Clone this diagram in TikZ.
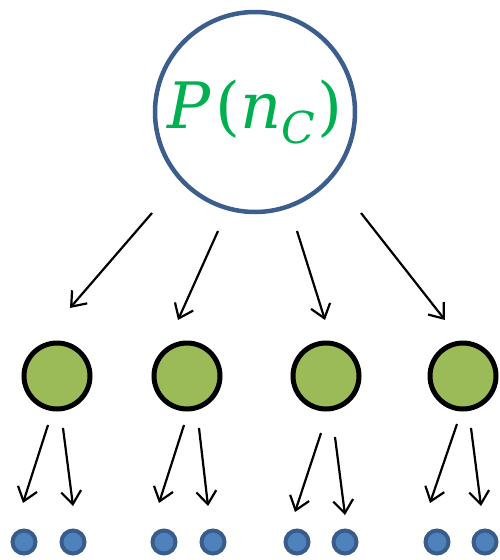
\documentclass[tikz,border=0pt]{standalone}
\usepackage{fontspec}
\newfontfamily\labelfont{DejaVu Serif}
\usetikzlibrary{arrows.meta}
\definecolor{ringblue}{HTML}{3B5E8C}
\definecolor{txtgreen}{HTML}{00B050}
\definecolor{leafgreen}{HTML}{9BBB59}
\definecolor{dotin}{HTML}{4F81BD}
\definecolor{dotout}{HTML}{385D8A}
\begin{document}
\begin{tikzpicture}[x=1pt,y=-1pt,
  bigc/.style={circle,draw=ringblue,line width=4.5pt,minimum size=200pt,inner sep=0pt},
  greenc/.style={circle,draw=black,fill=leafgreen,line width=5pt,minimum size=66pt,inner sep=0pt},
  dotc/.style={circle,draw=dotout,fill=dotin,line width=4pt,minimum size=23pt,inner sep=0pt},
  arr/.style={line width=2.2pt,-{Straight Barb[length=13pt,width=20pt,line width=2.2pt]}}]
\useasboundingbox (0,0) rectangle (499,560);
\node[bigc] (top) at (255,112) {};
\node[text=txtgreen,font=\labelfont\fontsize{64}{70}\selectfont,inner sep=0pt] (lbl) at (255,112)
  {\textit{P}\kern4pt(\textit{n}\raisebox{-0.22em}{\fontsize{44}{46}\selectfont\textit{C}}\kern2pt)};
\foreach \i/\x in {1/57,2/187,3/326,4/463}{
  \node[greenc] (g\i) at (\x,376) {};
}
\foreach \i/\x in {1/24,2/73,3/164,4/213,5/297,6/345,7/437,8/485}{
  \node[dotc] (d\i) at (\x,542) {};
}
% top arrows
\coordinate (s1) at (152,213); \coordinate (e1) at (70,308);
\coordinate (s2) at (218,231); \coordinate (e2) at (178,320);
\coordinate (s3) at (297,231); \coordinate (e3) at (325,320);
\coordinate (s4) at (361,213); \coordinate (e4) at (445,320);
\foreach \i in {1,2,3,4}{ \draw[arr] (s\i) -- (e\i); }
% small arrows
\coordinate (a1) at (48,425); \coordinate (b1) at (23,503);
\coordinate (a2) at (63,428); \coordinate (b2) at (73,506);
\coordinate (a3) at (184,425); \coordinate (b3) at (159,503);
\coordinate (a4) at (199,428); \coordinate (b4) at (208,506);
\coordinate (a5) at (321,433); \coordinate (b5) at (295,512);
\coordinate (a6) at (335,437); \coordinate (b6) at (345,515);
\coordinate (a7) at (457,424); \coordinate (b7) at (430,503);
\coordinate (a8) at (471,428); \coordinate (b8) at (481,506);
\foreach \i in {1,...,8}{ \draw[arr] (a\i) -- (b\i); }
\end{tikzpicture}
\end{document}
